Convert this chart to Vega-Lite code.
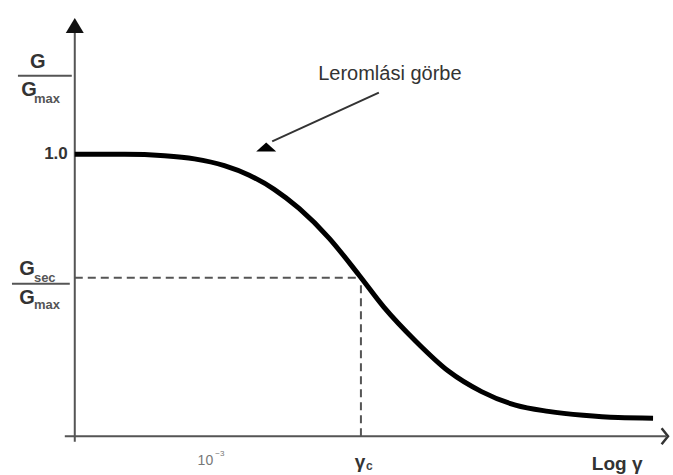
{
  "$schema": "https://vega.github.io/schema/vega-lite/v6.json",
  "width": 673,
  "height": 475,
  "autosize": {"type": "fit", "contains": "padding"},
  "padding": 0,
  "background": "white",
  "config": {"view": {"stroke": null}, "text": {"font": "Liberation Sans"}},
  "datasets": {
    "axes": [
      {"x": -0.1, "y": 0, "x2": 5.93, "y2": 0},
      {"x": 0, "y": -0.02, "x2": 0, "y2": 1.45}
    ],
    "bars": [
      {"x": -0.57, "y": 1.279, "x2": -0.03, "y2": 1.279},
      {"x": -0.63, "y": 0.541, "x2": -0.05, "y2": 0.541}
    ],
    "dashes": [
      {"x": 0, "y": 0.562, "x2": 2.87, "y2": 0.562},
      {"x": 2.87, "y": 0, "x2": 2.87, "y2": 0.562}
    ],
    "pointer": [
      {"x": 3.05, "y": 1.219, "x2": 1.98, "y2": 1.046}
    ],
    "yhead": [{"x": 0, "y": 1.452}],
    "xhead": [{"x": 5.95, "y": 0}],
    "phead": [{"x": 1.92, "y": 1.026}],
    "curve": [
      {"x": 0, "y": 1.0},
      {"x": 0.5, "y": 1.0},
      {"x": 0.9, "y": 0.995},
      {"x": 1.2, "y": 0.984},
      {"x": 1.5, "y": 0.96},
      {"x": 1.75, "y": 0.926},
      {"x": 2.0, "y": 0.876},
      {"x": 2.25, "y": 0.808},
      {"x": 2.55, "y": 0.703},
      {"x": 2.85, "y": 0.572},
      {"x": 3.1, "y": 0.458},
      {"x": 3.42, "y": 0.337},
      {"x": 3.75, "y": 0.23},
      {"x": 4.08, "y": 0.158},
      {"x": 4.42, "y": 0.11},
      {"x": 4.75, "y": 0.088},
      {"x": 5.1, "y": 0.074},
      {"x": 5.45, "y": 0.066},
      {"x": 5.8, "y": 0.064}
    ],
    "bigG": [
      {"x": -0.37, "y": 1.329, "t": "G"},
      {"x": -0.46, "y": 1.23, "t": "G"},
      {"x": -0.48, "y": 0.594, "t": "G"},
      {"x": -0.48, "y": 0.491, "t": "G"}
    ],
    "subs": [
      {"x": -0.41, "y": 1.198, "t": "max"},
      {"x": -0.41, "y": 0.562, "t": "sec"},
      {"x": -0.41, "y": 0.466, "t": "max"}
    ],
    "one": [{"x": -0.07, "y": 1.0, "t": "1.0"}],
    "title": [{"x": 3.16, "y": 1.286, "t": "Leromlási görbe"}],
    "ten": [{"x": 1.31, "y": -0.088, "t": "10"}],
    "exp": [{"x": 1.41, "y": -0.064, "t": "−3"}],
    "gam": [{"x": 2.86, "y": -0.092, "t": "γ"}],
    "gsub": [{"x": 2.92, "y": -0.106, "t": "c"}],
    "logg": [{"x": 5.44, "y": -0.099, "t": "Log γ"}]
  },
  "encoding": {
    "x": {"field": "x", "type": "quantitative", "scale": {"domain": [-0.75, 5.98], "nice": false, "zero": false}, "axis": null},
    "y": {"field": "y", "type": "quantitative", "scale": {"domain": [-0.1307, 1.5477], "nice": false, "zero": false}, "axis": null}
  },
  "layer": [
    {"data": {"name": "dashes"}, "mark": {"type": "rule", "color": "#555", "strokeWidth": 2, "strokeDash": [8, 5]},
     "encoding": {"x2": {"field": "x2"}, "y2": {"field": "y2"}}},
    {"data": {"name": "axes"}, "mark": {"type": "rule", "color": "#555", "strokeWidth": 2},
     "encoding": {"x2": {"field": "x2"}, "y2": {"field": "y2"}}},
    {"data": {"name": "bars"}, "mark": {"type": "rule", "color": "#555", "strokeWidth": 2},
     "encoding": {"x2": {"field": "x2"}, "y2": {"field": "y2"}}},
    {"data": {"name": "pointer"}, "mark": {"type": "rule", "color": "#333", "strokeWidth": 2},
     "encoding": {"x2": {"field": "x2"}, "y2": {"field": "y2"}}},
    {"data": {"name": "yhead"}, "mark": {"type": "point", "shape": "M 0 -1 L 1 0.67 L -1 0.67 Z", "size": 324, "filled": true, "color": "#111", "opacity": 1}},
    {"data": {"name": "xhead"}, "mark": {"type": "point", "shape": "M -0.8 -1 L 0 0 L -0.8 1", "size": 256, "filled": false, "color": "#333", "strokeWidth": 2.5, "opacity": 1}},
    {"data": {"name": "phead"}, "mark": {"type": "point", "shape": "M 0 -0.45 L 1 0.45 L -1 0.45 Z", "size": 400, "filled": true, "color": "#000", "opacity": 1}},
    {"data": {"name": "curve"}, "mark": {"type": "line", "color": "#000", "strokeWidth": 5, "interpolate": "monotone", "strokeCap": "butt"}},
    {"data": {"name": "bigG"}, "mark": {"type": "text", "fontSize": 20, "fontWeight": "bold", "color": "#333", "align": "center", "baseline": "middle"},
     "encoding": {"text": {"field": "t"}}},
    {"data": {"name": "subs"}, "mark": {"type": "text", "fontSize": 13, "fontWeight": "bold", "color": "#555", "align": "left", "baseline": "middle"},
     "encoding": {"text": {"field": "t"}}},
    {"data": {"name": "one"}, "mark": {"type": "text", "fontSize": 17, "fontWeight": "bold", "color": "#333", "align": "right", "baseline": "middle"},
     "encoding": {"text": {"field": "t"}}},
    {"data": {"name": "title"}, "mark": {"type": "text", "fontSize": 20, "color": "#333", "align": "center", "baseline": "middle"},
     "encoding": {"text": {"field": "t"}}},
    {"data": {"name": "ten"}, "mark": {"type": "text", "fontSize": 14, "color": "#777", "align": "center", "baseline": "middle"},
     "encoding": {"text": {"field": "t"}}},
    {"data": {"name": "exp"}, "mark": {"type": "text", "fontSize": 8, "color": "#777", "align": "left", "baseline": "middle"},
     "encoding": {"text": {"field": "t"}}},
    {"data": {"name": "gam"}, "mark": {"type": "text", "fontSize": 19, "fontWeight": "bold", "color": "#333", "align": "center", "baseline": "middle"},
     "encoding": {"text": {"field": "t"}}},
    {"data": {"name": "gsub"}, "mark": {"type": "text", "fontSize": 12, "fontWeight": "bold", "color": "#444", "align": "left", "baseline": "middle"},
     "encoding": {"text": {"field": "t"}}},
    {"data": {"name": "logg"}, "mark": {"type": "text", "fontSize": 19, "fontWeight": "bold", "color": "#333", "align": "center", "baseline": "middle"},
     "encoding": {"text": {"field": "t"}}}
  ]
}
